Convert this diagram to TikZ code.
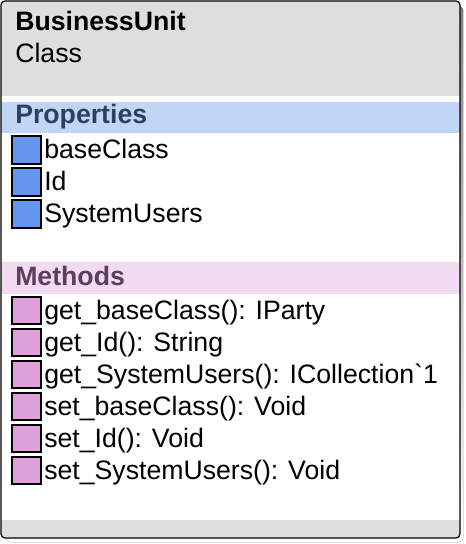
\documentclass[tikz,border=0pt]{standalone}
\usepackage{fontspec}
\setmainfont{Liberation Sans}
\definecolor{headgray}{HTML}{DEDEDE}
\definecolor{propband}{HTML}{C3D5F5}
\definecolor{propbox}{HTML}{6495ED}
\definecolor{propink}{HTML}{2E3E5E}
\definecolor{methband}{HTML}{F1DBF1}
\definecolor{methbox}{HTML}{DDA0DD}
\definecolor{methink}{HTML}{5E3E5E}
\definecolor{shade}{HTML}{C8C8C8}
\begin{document}
\begin{tikzpicture}[x=0.75pt,y=-0.75pt,
    every node/.style={inner sep=0pt,font=\fontsize{20}{24}\selectfont},
    member/.style={anchor=base west},
    propicon/.style={draw=black,line width=0.9pt,fill=propbox},
    methicon/.style={draw=black,line width=0.9pt,fill=methbox}]
                    \useasboundingbox (0,0) rectangle (466,544);
                    % shadow
                    \fill[shade,rounded corners=3] (6,6) rectangle (463,542);
                    \fill[white,rounded corners=3] (1,1) rectangle (460,538);
                    % header and footer bands
                    \scope
                    \clip[rounded corners=3] (1,1) rectangle (460,538);
                    \fill[headgray] (1,1) rectangle (460,96);
                    \fill[headgray] (1,520) rectangle (460,538);
                    \fill[propband] (1,102) rectangle (460,133);
                    \fill[methband] (1,262) rectangle (460,294);
                    \endscope
                    % outline
                    \draw[line width=0.9pt,rounded corners=3] (1,1) rectangle (460,538);
                    % title
                    \node[member,font=\fontsize{20}{24}\selectfont\bfseries] (title) at (15,30) {BusinessUnit};
                    \node[member] (kind) at (15,62) {Class};
                    % properties
                    \node[member,text=propink,font=\fontsize{20}{24}\selectfont\bfseries] (props) at (15,123) {Properties};
                    \draw[propicon] (12,136) rectangle (41,164);
                    \node[member] (p1) at (44,158) {baseClass};
                    \draw[propicon] (12,168) rectangle (41,196);
                    \node[member] (p2) at (44,190) {Id};
                    \draw[propicon] (12,200) rectangle (41,228);
                    \node[member] (p3) at (44,222) {SystemUsers};
                    % methods
                    \node[member,text=methink,font=\fontsize{20}{24}\selectfont\bfseries] (meths) at (15,285) {Methods};
                    \draw[methicon] (12,297) rectangle (41,324);
                    \node[member] (m1) at (44,319) {get\_baseClass(): IParty};
                    \draw[methicon] (12,329) rectangle (41,356);
                    \node[member] (m2) at (44,351) {get\_Id(): String};
                    \draw[methicon] (12,361) rectangle (41,388);
                    \node[member] (m3) at (44,383) {get\_SystemUsers(): ICollection\textasciigrave 1};
                    \draw[methicon] (12,393) rectangle (41,420);
                    \node[member] (m4) at (44,415) {set\_baseClass(): Void};
                    \draw[methicon] (12,425) rectangle (41,452);
                    \node[member] (m5) at (44,447) {set\_Id(): Void};
                    \draw[methicon] (12,457) rectangle (41,484);
                    \node[member] (m6) at (44,479) {set\_SystemUsers(): Void};
\end{tikzpicture}
\end{document}
